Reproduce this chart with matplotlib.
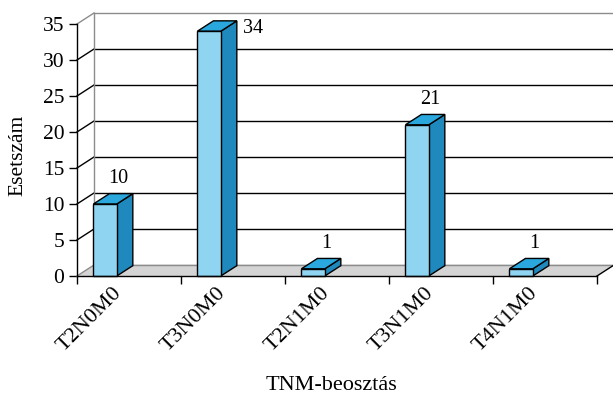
import numpy as np
import matplotlib
matplotlib.use("Agg")
import matplotlib.pyplot as plt
from matplotlib.patches import Polygon
from matplotlib.lines import Line2D
from matplotlib.transforms import offset_copy, IdentityTransform

# Data
categories = ["T2N0M0", "T3N0M0", "T2N1M0", "T3N1M0", "T4N1M0"]
counts = [10, 34, 1, 21, 1]
y_ticks = [0, 5, 10, 15, 20, 25, 30, 35]

plt.rcParams["font.family"] = ["Liberation Serif", "DejaVu Serif"]

W, H = 613, 401
fig = plt.figure(figsize=(W / 100, H / 100), dpi=100)
fig.patch.set_facecolor("white")

# front plane of the pseudo-3D box
ax = fig.add_axes([77 / W, (H - 276) / H, (597 - 77) / W, (276 - 24) / H])
ax.set_xlim(0, len(categories))
ax.set_ylim(0, 35)
ax.patch.set_visible(False)
for s in ("top", "right"):
    ax.spines[s].set_visible(False)
for s in ("left", "bottom"):
    ax.spines[s].set_color("black")
    ax.spines[s].set_linewidth(1.0)
    ax.spines[s].set_zorder(10)

ax.set_yticks(y_ticks)
ax.set_yticklabels([str(t) for t in y_ticks], fontsize=15.5)
ax.set_xticks(range(len(categories) + 1))
ax.set_xticklabels([])
ax.tick_params(axis="both", direction="out", length=6, width=1.0, color="black")
ax.tick_params(axis="y", pad=3)

# depth of the walls (pixels) and of the bars
DX, DY = 17.0, 11.0
BAR_DEPTH = 16.0 / 17.0

# bar placement within a category (fractions of category width)
BAR_OFF = 0.158
BAR_W = 0.225

GRAY = "#8c8c8c"
ident = IdentityTransform()


def disp(x, y, depth=0.0):
    p = ax.transData.transform((x, y))
    return (p[0] + depth * DX, p[1] + depth * DY)


def poly(pts, fc, ec="black", lw=1.0, z=1):
    ax.add_patch(Polygon(pts, closed=True, facecolor=fc, edgecolor=ec,
                         linewidth=lw, transform=ident, clip_on=False,
                         zorder=z, joinstyle="miter"))


def line(p0, p1, color="black", lw=1.0, z=2):
    ax.add_line(Line2D([p0[0], p1[0]], [p0[1], p1[1]], color=color,
                       linewidth=lw, transform=ident, clip_on=False, zorder=z))


n = len(categories)

# back wall
poly([disp(0, 0, 1), disp(n, 0, 1), (W + 20, disp(n, 0, 1)[1]),
      (W + 20, disp(0, 35, 1)[1]), disp(0, 35, 1)], fc="white", ec="none", z=0)

# back gridlines and left-wall connectors
for t in y_ticks:
    col = GRAY if t in (0, 35) else "black"
    line(disp(0, t, 1), (W + 20, disp(0, t, 1)[1]), color=col, z=1)
    if t != 0:
        line(disp(0, t, 0), disp(0, t, 1), color=col, z=1)
line(disp(0, 0, 1), disp(0, 35, 1), color=GRAY, z=1)

# floor
poly([disp(0, 0, 0), disp(n, 0, 0), disp(n, 0, 1), disp(0, 0, 1)],
     fc="#d4d4d4", ec="none", z=2)
line(disp(0, 0, 0), disp(0, 0, 1), color=GRAY, z=3)
line(disp(0, 0, 1), disp(n, 0, 1), color=GRAY, z=3)
line(disp(n, 0, 0), disp(n, 0, 1), color="black", z=3)

# bars
FRONT, SIDE, TOP = "#8fd4f1", "#1f88bd", "#2aa8de"
for i, v in enumerate(counts):
    x0 = i + BAR_OFF
    x1 = x0 + BAR_W
    d = BAR_DEPTH
    poly([disp(x1, 0), disp(x1, 0, d), disp(x1, v, d), disp(x1, v)], SIDE, z=5)
    poly([disp(x0, v), disp(x1, v), disp(x1, v, d), disp(x0, v, d)], TOP, z=5)
    poly([disp(x0, 0), disp(x1, 0), disp(x1, v), disp(x0, v)], FRONT, z=6)

    # value label
    bl = disp(x0, v, d)
    br = disp(x1, v, d)
    cx = (disp(x0, v)[0] + br[0]) / 2 + 5
    ly = bl[1] + 15
    if ly + 10 > H:
        fig.text((br[0] + 6) / W, (disp(x1, v)[1] + 3) / H, str(v),
                 ha="left", va="center", fontsize=14.5)
    else:
        fig.text(cx / W, ly / H, str(v), ha="center", va="center", fontsize=14.5)

# category labels
lab_tr = offset_copy(ax.transData, fig=fig, x=-3, y=-8, units="dots")
for i, c in enumerate(categories):
    ax.text(i + 0.5, 0, c, transform=lab_tr, rotation=45, ha="right",
            va="top", fontsize=16, clip_on=False)

fig.text(18 / W, 1 - 155 / H, "Esetszám", rotation=90, ha="center",
         va="center", fontsize=15.5)
fig.text(331 / W, 1 - 385 / H, "TNM-beosztás", ha="center", va="center",
         fontsize=16)

fig.savefig("out.png", dpi=100, facecolor="white")
